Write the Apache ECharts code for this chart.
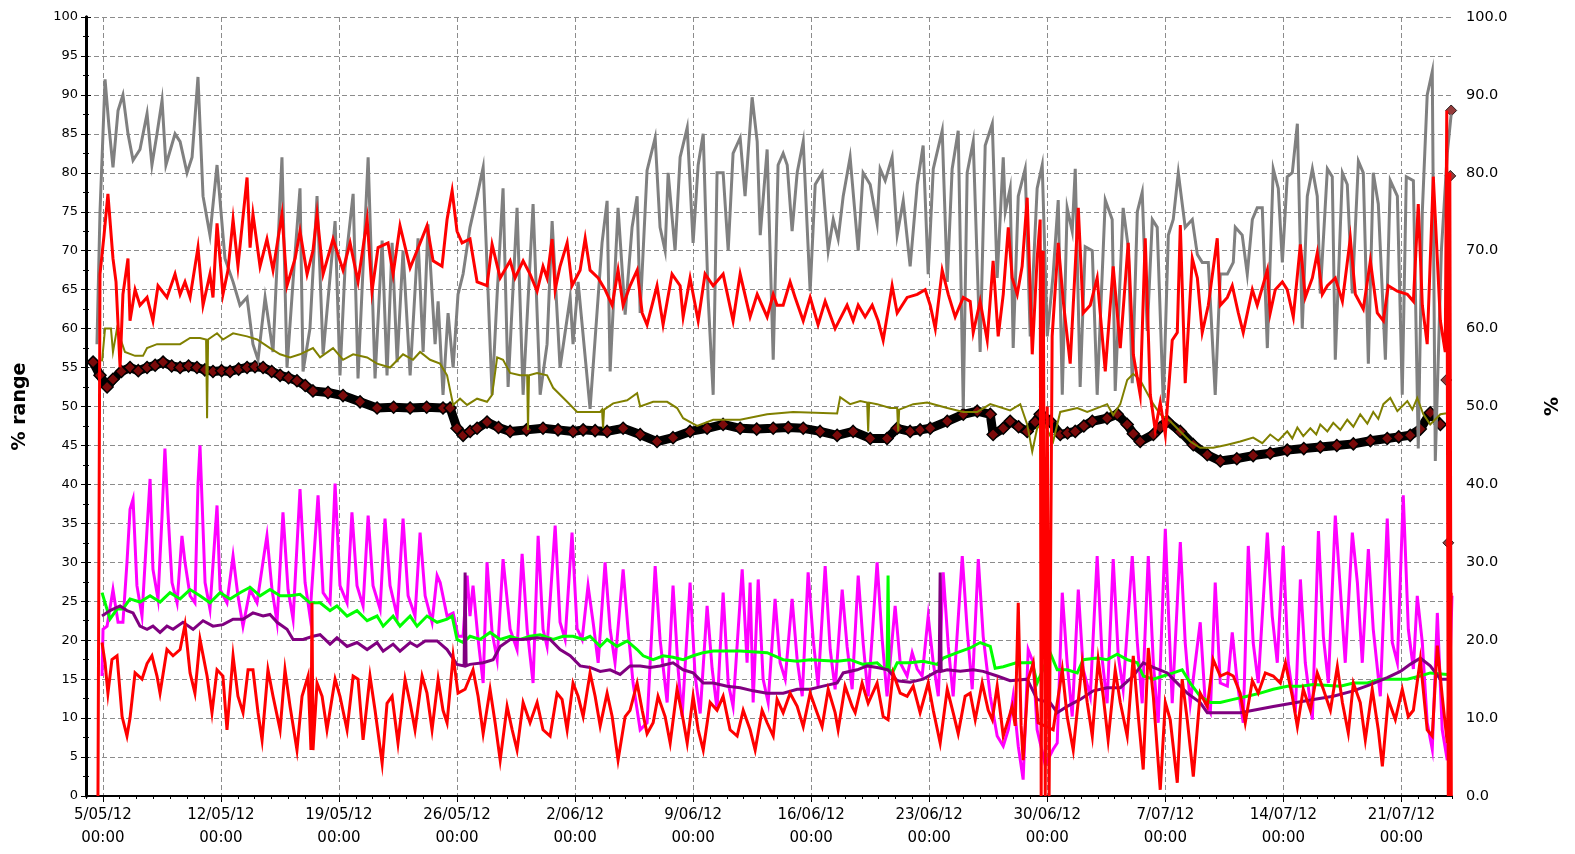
<!DOCTYPE html>
<html>
<head>
<meta charset="utf-8">
<script src="https://cdn.jsdelivr.net/npm/echarts@6/dist/echarts.min.js"></script>
<style>
  html, body { margin: 0; padding: 0; background: #ffffff; }
  #chart { width: 1575px; height: 854px; }
</style>
</head>
<body>
<div id="chart"></div>
<script>
// Time is stored as days elapsed since 4/05/12 00:00.
const startDate = Date.UTC(2012, 4, 4);
const spanDays = 81;

// Weekly date labels along the time axis (second line is the clock time).
const dateTicks = ['5/05/12', '12/05/12', '19/05/12', '26/05/12', '2/06/12', '9/06/12',
  '16/06/12', '23/06/12', '30/06/12', '7/07/12', '14/07/12', '21/07/12'];
const tickTime = '00:00';

// Grey trace (% range)
const greyLine = [
  [0.65,58],[0.83,75],[1.13,92],[1.36,86],[1.60,80.7],[1.90,88],[2.19,90],[2.49,85],[2.79,81.6],
  [3.20,83],[3.62,87.6],[3.91,81],[4.21,85],[4.51,89.3],[4.74,81],[5.28,85],[5.58,84],[5.99,80],
  [6.29,82],[6.64,92.3],[6.94,77],[7.35,72],[7.77,81],[8.24,69],[8.72,66],[9.13,63],[9.55,64],
  [9.90,58],[10.20,56],[10.62,64],[11.09,57],[11.62,82],[11.92,55],[12.34,68],[12.69,78],[12.87,54.5],
  [13.28,60],[13.70,77],[14.06,56.7],[14.77,73.8],[15.06,54],[15.36,67.8],[15.84,77.3],[16.13,53.6],
  [16.73,82],[17.14,53.6],[17.56,71.3],[17.85,54],[18.15,71],[18.45,55.7],[18.80,70],[19.22,54],
  [19.69,71.6],[19.99,57],[20.28,73.4],[20.70,58],[20.88,63.5],[21.17,51.5],[21.47,62],[21.77,55],
  [22.06,64.4],[22.36,67],[22.77,73],[23.19,77],[23.55,80.7],[24.08,51.5],[24.38,64.4],[24.73,78],
  [25.03,52.5],[25.56,75.5],[25.92,51.5],[26.51,76],[26.93,51.5],[27.34,58],[27.64,73.8],[28.11,55],
  [28.71,64],[28.88,58],[29.18,66],[29.89,49.7],[30.60,71],[30.90,76.4],[31.08,54.5],[31.55,75.5],
  [31.97,61.8],[32.38,73],[32.68,77],[32.86,62],[33.27,80.3],[33.75,84.5],[34.04,73],[34.34,70],
  [34.52,80],[34.93,70],[35.23,82],[35.65,85.8],[36.00,71],[36.30,81],[36.60,85],[36.89,64],
  [37.19,51.5],[37.42,80],[37.78,80],[38.08,70],[38.37,82.5],[38.79,84.5],[39.08,77],[39.50,89.7],
  [39.80,84],[39.98,72],[40.39,83],[40.75,56],[41.04,81],[41.34,82.5],[41.58,81],[41.87,72.5],
  [42.17,80],[42.53,84],[42.94,64.8],[43.24,78.5],[43.65,80],[44.01,70],[44.31,74],[44.60,71.5],
  [44.90,77],[45.31,82],[45.79,70],[46.08,80],[46.50,78.5],[46.91,73.5],[47.09,80.5],[47.39,79],
  [47.80,82],[48.10,72],[48.46,76.4],[48.87,68],[49.29,78.5],[49.64,83.5],[49.94,67],[50.24,80.5],
  [50.77,85.4],[51.07,66],[51.36,80.5],[51.72,85.4],[52.02,49.7],[52.25,80],[52.61,84],[53.02,57],
  [53.32,83.5],[53.74,86.3],[54.03,66.5],[54.39,82],[54.51,75],[54.80,78],[54.98,57.5],[55.28,77],
  [55.69,80.5],[55.99,59],[56.40,78],[56.70,81],[57.00,59],[57.35,67],[57.65,76.5],[57.89,51.5],
  [58.18,75.5],[58.48,72.5],[58.66,80.5],[58.95,52.5],[59.25,70.5],[59.67,70],[59.96,51.5],[60.44,76.5],
  [60.85,74],[61.03,52],[61.50,75.5],[61.80,70.5],[62.04,53],[62.34,75],[62.63,77.5],[62.93,59.7],
  [63.23,74],[63.52,73],[63.88,50.5],[64.18,72],[64.47,74],[64.77,80],[65.18,73],[65.60,74],
  [65.90,69.5],[66.19,68.5],[66.55,68.5],[66.96,51.5],[67.26,67],[67.68,67],[68.03,68.5],[68.15,73],
  [68.56,72],[68.86,67],[69.16,74],[69.45,75.5],[69.75,75.5],[70.05,57.5],[70.40,80.5],[70.70,78],
  [70.94,68.5],[71.23,79.5],[71.53,80],[71.83,86.3],[72.12,60],[72.42,77],[72.72,80.5],[73.01,77],
  [73.19,64.5],[73.61,80.5],[73.90,79.5],[74.08,56],[74.50,80],[74.79,78.5],[75.09,64.5],[75.45,81.5],
  [75.74,80],[76.04,55.5],[76.33,80],[76.63,76],[77.05,56],[77.34,79],[77.76,77],[78.05,51.5],
  [78.29,79.5],[78.71,79],[79.00,44.6],[79.24,75],[79.53,90],[79.83,93],[80.01,43],[80.37,70],
  [80.72,82.5],[80.95,87.5]
];

// Upper red trace
const redUpper = [
  [0.71,0],[0.83,67],[1.07,72],[1.30,77.3],[1.60,69],[1.78,66],[2.02,55],[2.19,64.4],[2.49,69],
  [2.61,61],[2.91,65],[3.20,63],[3.62,64],[3.97,61],[4.27,65.5],[4.80,64],[5.28,67],[5.58,64.4],
  [5.87,66],[6.17,64],[6.64,70.4],[6.94,63],[7.35,67],[7.53,64],[7.77,73.5],[8.12,64.4],[8.42,67.5],
  [8.72,74],[9.01,68],[9.55,79.4],[9.73,70.4],[9.90,74.7],[10.32,68],[10.73,71.5],[11.09,67.5],
  [11.62,74.7],[11.92,65.5],[12.40,69],[12.69,72.5],[13.11,67],[13.46,70],[13.70,74.7],[14.06,67],
  [14.65,71.5],[15.24,67.5],[15.66,71],[16.13,66],[16.67,74],[16.96,64.8],[17.32,70.4],[17.91,71],
  [18.21,67],[18.62,73.2],[19.22,67.8],[19.63,70],[20.22,73.2],[20.58,68.7],[21.11,68],[21.41,74],
  [21.71,77.7],[22.00,72.5],[22.30,71],[22.77,71.5],[23.19,66],[23.78,65.5],[24.08,70.8],[24.56,66.5],
  [25.15,68.7],[25.44,66.5],[25.92,68.7],[26.33,67],[26.75,64.8],[27.10,68],[27.34,66.5],[27.64,71.5],
  [27.82,65],[28.11,68],[28.53,71],[28.82,65.5],[29.30,67.5],[29.60,71.6],[29.89,67.5],[30.37,66.5],
  [30.78,65],[31.20,63],[31.55,67.5],[31.85,63],[32.26,65.5],[32.68,67.5],[32.98,62],[33.27,60.5],
  [33.86,65.5],[34.22,60.5],[34.75,67],[35.23,65.5],[35.41,61.5],[35.82,66.5],[36.30,61],[36.71,67],
  [37.19,65.5],[37.78,67],[38.37,61],[38.79,67],[39.38,61.5],[39.80,64.4],[40.39,61.5],[40.75,64.4],
  [40.98,63],[41.34,63],[41.75,66],[42.05,64],[42.53,61],[42.94,64],[43.41,60.5],[43.83,63.5],
  [44.42,60],[45.13,63],[45.49,61],[45.79,63],[46.20,61.5],[46.62,63],[46.97,61],[47.27,58.5],
  [47.80,65.5],[48.10,62],[48.69,64],[49.29,64.4],[49.76,65],[50.06,63],[50.36,60],[50.77,67.5],
  [51.13,64.4],[51.54,61.5],[52.02,64],[52.43,63.5],[52.61,59.5],[53.02,63.5],[53.44,58.5],[53.79,68.7],
  [54.09,59],[54.39,64.4],[54.69,73],[54.92,66.5],[55.22,64.4],[55.51,68],[55.81,76.8],[56.11,56.7],
  [56.40,69],[56.58,74],[56.64,0],[56.76,70],[56.88,0],[57.00,50],[57.11,0],[57.29,59],[57.65,71],
  [57.95,63.5],[58.36,55.5],[58.84,75.5],[59.13,62],[59.55,63],[59.96,66.5],[60.44,54.5],[60.91,68],
  [61.33,57.5],[61.80,71],[62.10,56.7],[62.51,51.5],[62.81,71.6],[63.11,51.5],[63.40,47],[63.70,50.5],
  [64.00,46.4],[64.41,58.5],[64.71,59.5],[64.89,73.3],[65.18,53],[65.60,69],[65.90,66.5],[66.19,59.5],
  [66.55,63],[67.08,71.6],[67.26,63],[67.68,64],[67.97,65.5],[68.33,62],[68.62,59.5],[69.16,65],
  [69.45,63],[70.05,67.5],[70.22,62],[70.52,65],[70.94,66],[71.23,65],[71.59,61.5],[72.01,70.8],
  [72.30,64],[72.72,66.5],[73.01,69.7],[73.31,64.4],[73.61,65.5],[74.08,66.5],[74.50,63.5],[74.97,71.6],
  [75.27,64.4],[75.74,62.5],[76.16,68.7],[76.57,62],[76.93,61],[77.22,65.5],[77.76,64.8],[78.35,64.4],
  [78.71,63.5],[79.00,76],[79.24,63],[79.53,58],[79.89,79.5],[80.31,61],[80.60,57],[80.69,88],
  [80.78,0],[80.87,80],[80.96,0]
];

// Olive trace
const oliveLine = [
  [0.95,55.8],[1.13,60],[1.48,60],[1.60,57],[1.84,60],[2.31,57],[2.91,56.5],[3.38,56.5],[3.62,57.5],
  [4.21,58],[5.58,58],[6.17,58.8],[6.76,58.8],[7.12,58.6],[7.18,48.5],[7.24,58.6],[7.77,59.4],
  [8.12,58.6],[8.72,59.4],[9.55,59],[10.14,58.6],[10.91,57.5],[11.51,56.7],[12.10,56.3],[12.69,56.7],
  [13.46,57.5],[13.88,56.3],[14.65,57.5],[15.24,56],[15.84,56.7],[16.67,56.3],[17.26,55.5],[18.03,55],
  [18.80,56.7],[19.39,56],[19.81,57],[20.40,56],[20.99,55.5],[21.41,54],[21.77,50.2],[22.18,51],
  [22.60,50.2],[23.19,51],[23.78,50.6],[24.08,51.5],[24.38,56.3],[24.73,56],[25.15,54.3],[25.74,54],
  [26.16,54],[26.21,47],[26.27,54],[26.75,54.3],[27.34,54],[27.70,52.4],[28.53,50.6],[29.12,49.3],
  [30.49,49.3],[30.60,49.6],[30.66,47.2],[30.72,49.6],[31.26,50.4],[32.09,50.8],[32.68,51.7],
  [32.86,50],[33.63,50.6],[34.46,50.6],[35.05,49.8],[35.41,48.5],[36.24,47.5],[37.19,48.3],
  [38.79,48.3],[40.39,49],[41.93,49.3],[44.54,49.1],[44.72,51.2],[45.31,50.3],[45.91,50.7],
  [46.32,50.5],[46.38,46.8],[46.44,50.5],[46.91,50.3],[47.68,49.8],[48.10,49.8],[48.16,46.8],
  [48.22,49.6],[49.05,50.3],[49.88,50.5],[51.07,49.8],[52.02,49.3],[52.85,49.3],[53.62,50.3],
  [54.80,49.5],[55.40,50.3],[55.81,47.7],[56.11,44.2],[56.40,47.2],[56.76,48],[57.35,45.5],
  [57.77,49.3],[58.78,49.8],[59.37,49.3],[59.96,49.8],[60.55,50.3],[60.91,48.9],[61.33,50.3],
  [61.74,53.4],[62.10,54.2],[62.51,53.4],[62.93,51.7],[63.29,50.3],[63.70,49],[64.29,48.1],
  [64.89,46.8],[65.48,45.5],[66.07,44.7],[66.84,44.7],[67.68,45.1],[68.44,45.5],[69.21,46],
  [69.75,45.3],[70.22,46.4],[70.70,45.6],[71.23,46.8],[71.53,45.9],[71.83,47.3],[72.18,46.2],
  [72.60,47.2],[72.95,46.4],[73.19,47.7],[73.61,46.8],[73.96,47.9],[74.38,47],[74.79,48.3],
  [75.15,47.4],[75.56,49],[75.98,47.8],[76.33,49.3],[76.63,48.4],[76.93,50.3],[77.34,51.1],
  [77.76,49.4],[78.35,50.7],[78.65,49.6],[78.94,51.1],[79.30,49],[79.71,47.7],[80.31,49],[80.90,49.2]
];

// Dark trace drawn with marker band
const darkBand = [
  [0.42,55.7],[0.83,54],[1.25,52.5],[1.60,53.5],[2.10,54.5],[2.61,55],[3.10,54.6],[3.62,55],[4.10,55.3],
  [4.57,55.7],[5.08,55.2],[5.58,55],[6.08,55.2],[6.58,55],[7.05,54.7],[7.53,54.5],[8.04,54.6],
  [8.54,54.5],[9.05,54.8],[9.55,55],[10.02,55.1],[10.50,55],[11.01,54.5],[11.51,54],[12.01,53.7],
  [12.51,53.3],[13.00,52.7],[13.46,52],[14.35,51.8],[15.24,51.4],[16.25,50.6],[17.26,49.8],
  [18.24,49.9],[19.22,49.8],[20.20,49.9],[21.17,49.8],[21.59,49.8],[22.00,47.2],[22.36,46.3],
  [22.78,46.8],[23.19,47.2],[23.78,48],[24.46,47.3],[25.15,46.8],[26.12,47],[27.10,47.2],[27.99,47],
  [28.88,46.8],[29.48,47],[30.19,46.9],[30.90,46.8],[31.85,47.2],[32.86,46.4],[33.86,45.5],
  [34.81,46],[35.82,46.8],[36.83,47.2],[37.78,47.7],[38.79,47.2],[39.77,47.1],[40.75,47.2],
  [41.64,47.3],[42.53,47.2],[43.53,46.8],[44.54,46.3],[45.49,46.8],[46.50,45.9],[47.50,45.9],
  [48.10,47.2],[48.87,46.8],[49.46,47],[50.06,47.2],[51.07,48.1],[52.02,49],[52.85,49.4],[53.62,49],
  [53.79,46.4],[54.39,47.2],[54.80,48.1],[55.30,47.4],[55.81,46.8],[56.28,48],[56.58,49],
  [56.88,48.5],[57.17,48.1],[57.77,46.4],[58.20,46.6],[58.66,46.8],[59.17,47.5],[59.67,48.1],
  [60.55,48.5],[61.15,49],[61.74,47.7],[62.10,46.5],[62.51,45.5],[63.29,46.4],[63.70,47.3],
  [64.12,48.1],[64.89,46.8],[65.66,45.1],[66.49,43.8],[67.26,43],[68.24,43.3],[69.21,43.7],
  [70.22,44],[71.23,44.4],[72.21,44.6],[73.19,44.8],[74.17,45],[75.15,45.2],[76.16,45.6],
  [77.16,45.9],[77.84,46.1],[78.52,46.3],[79.12,47.1],[79.71,49.2],[80.31,47.7]
];

// Isolated readings of the dark trace at the end of the record
const darkBandTail = [[80.66,53.4],[80.78,32.5],[80.90,79.6],[80.95,88]];

// Magenta trace
const magentaLine = [
  [0.95,15.4],[1.01,21.4],[1.25,21.8],[1.60,26.5],[1.90,22.3],[2.19,22.3],[2.43,30],[2.61,36.8],
  [2.79,38.1],[3.02,27],[3.32,23.1],[3.62,34.3],[3.80,40.7],[3.97,29.1],[4.27,25.3],[4.51,36],
  [4.68,44.6],[4.86,36.4],[5.10,27.4],[5.40,24.8],[5.69,33.4],[5.87,30],[6.17,25.7],[6.46,24.8],
  [6.64,40],[6.76,45],[7.06,27.4],[7.35,24],[7.77,37.3],[7.95,26.5],[8.36,24.8],[8.72,30.8],
  [9.01,25.7],[9.31,21.8],[9.73,26.5],[10.14,24.8],[10.56,31],[10.73,33.4],[11.03,26.5],[11.33,22.3],
  [11.68,36.4],[11.98,26.5],[12.28,22.7],[12.69,39.4],[12.99,27.4],[13.28,23.1],[13.76,38.6],
  [14.06,26.1],[14.47,24.8],[14.77,40.1],[15.06,27],[15.48,24.8],[15.77,36.4],[16.07,27],[16.43,24.4],
  [16.73,36],[17.02,27],[17.44,24],[17.73,35.6],[18.03,27],[18.45,23.1],[18.80,35.6],[19.10,25.7],
  [19.51,23.1],[19.81,33.8],[20.11,25.7],[20.52,22.3],[20.82,28.3],[21.00,27.4],[21.41,23.1],
  [21.77,23.5],[22.06,20.5],[22.36,20.5],[22.60,28.3],[22.77,23.1],[22.95,27],[23.25,20.1],
  [23.55,14.5],[23.78,30],[24.08,21],[24.38,17.5],[24.73,30.4],[25.15,21.4],[25.56,18.8],[25.86,31.1],
  [26.16,21.4],[26.51,14.5],[26.81,33.4],[27.10,21.4],[27.34,19.2],[27.82,34.7],[28.11,22.3],
  [28.41,20.1],[28.82,33.8],[29.12,21.5],[29.42,20.1],[29.77,27],[30.07,22.3],[30.37,17.1],[30.78,30],
  [31.08,21.4],[31.37,17.1],[31.85,29.1],[32.14,21.4],[32.44,14.5],[32.86,8.5],[33.27,9.4],[33.75,29.5],
  [34.04,20.1],[34.46,12],[34.81,27],[35.11,16.3],[35.35,10.2],[35.82,27.4],[36.12,15.4],[36.42,10.6],
  [36.83,24.4],[37.13,16.3],[37.42,11.1],[37.78,26.1],[38.08,14.5],[38.37,11.5],[38.91,29.1],
  [39.20,17.1],[39.38,27.4],[39.56,12],[39.86,27.8],[40.15,15],[40.45,12],[40.86,25.3],[41.16,17.1],
  [41.46,15],[41.87,25.3],[42.17,17.5],[42.47,12.8],[42.82,28.7],[43.12,20.1],[43.41,14.1],[43.83,29.5],
  [44.13,18.8],[44.42,13.7],[44.84,26.5],[45.13,19.2],[45.43,13.7],[45.79,28.3],[46.08,19.7],
  [46.38,12.8],[46.91,30],[47.21,20.1],[47.50,12.8],[47.98,24.4],[48.28,17.1],[48.69,15.4],[48.99,18.4],
  [49.29,16.3],[49.58,15.4],[49.94,23.1],[50.24,17.1],[50.54,12.8],[50.83,28.7],[51.13,19.2],
  [51.42,12.8],[51.96,30.8],[52.25,21.4],[52.55,13.7],[52.91,30.4],[53.20,20.5],[53.62,12.8],
  [54.03,7.7],[54.39,6.4],[54.69,8.5],[54.98,12.8],[55.28,6.4],[55.57,2.1],[55.87,18.8],[56.17,17.1],
  [56.40,8.5],[56.88,4],[57.35,6],[57.59,6.8],[57.89,26.1],[58.18,17.1],[58.48,10.2],[58.84,26.5],
  [59.13,16.3],[59.55,12.8],[59.96,30.8],[60.26,17.5],[60.55,11.9],[60.91,30.4],[61.21,18],[61.50,13.7],
  [62.04,30.8],[62.34,19.7],[62.63,11.9],[62.99,30.8],[63.29,17.1],[63.58,9.4],[64.00,34.3],[64.18,24],
  [64.41,11.9],[64.89,32.6],[65.18,19.7],[65.48,11.9],[66.07,22.3],[66.37,11.9],[66.67,10.7],
  [66.96,27.4],[67.26,14.5],[67.68,14.1],[67.97,21],[68.27,14.5],[68.62,9.4],[68.92,32.1],[69.21,19.7],
  [69.51,14.5],[70.05,33.8],[70.34,23.1],[70.64,17.1],[70.99,32.1],[71.29,17.1],[71.71,10.7],
  [72.01,27.8],[72.30,17.1],[72.72,9.8],[73.08,34],[73.37,20.5],[73.67,14.5],[74.08,36],[74.38,26.5],
  [74.67,17.1],[75.09,33.8],[75.39,27.4],[75.68,17.1],[76.04,31.7],[76.33,21.4],[76.75,12.8],
  [77.16,35.6],[77.46,19.7],[77.76,17.1],[78.11,38.6],[78.41,21.4],[78.71,16.3],[78.94,25.7],
  [79.24,19.7],[79.53,9.4],[79.83,6],[80.13,23.5],[80.42,8.5],[80.72,4.6],[81.0,25.7]
];

// Green trace
const greenLine = [
  [0.95,26.1],[1.42,22.7],[1.84,24],[2.19,24],[2.61,25.3],[3.20,24.9],[3.80,25.7],[4.39,24.9],
  [4.98,26.1],[5.58,25.3],[6.17,26.5],[6.76,25.7],[7.35,24.8],[7.95,26.1],[8.54,25.3],[9.13,26.1],
  [9.73,26.8],[10.32,25.7],[10.91,26.5],[11.51,25.7],[12.10,25.7],[12.69,25.9],[13.28,24.8],
  [13.88,24.8],[14.47,23.8],[14.88,24.4],[15.48,23.1],[16.07,23.8],[16.67,22.5],[17.26,23.1],
  [17.62,21.8],[18.21,23.1],[18.62,21.8],[19.22,23.1],[19.63,21.8],[20.22,23.1],[20.82,22.3],
  [21.41,22.7],[21.71,23.1],[22.00,20.1],[22.36,19.7],[22.77,20.5],[23.37,20.1],[23.96,21],
  [24.56,20.1],[25.15,20.5],[25.74,20.1],[26.33,20.5],[26.93,20.7],[27.70,20.1],[28.29,20.5],
  [28.88,20.5],[29.48,20.1],[29.89,20.5],[30.49,19.2],[30.90,20.1],[31.49,19.2],[32.09,19.9],
  [32.68,18.8],[33.04,18],[33.63,17.5],[34.22,18],[34.81,17.8],[35.41,17.5],[36.00,18],[36.60,18.4],
  [37.19,18.6],[38.79,18.6],[40.39,18.4],[41.34,17.5],[42.17,17.3],[42.94,17.5],[44.54,17.3],
  [45.31,17.5],[46.08,16.9],[46.91,17.1],[47.27,16.4],[47.50,16.2],[47.56,28.3],[47.62,16.2],
  [47.86,16],[48.10,17.1],[48.87,17.1],[49.64,17.3],[50.47,16.9],[50.83,17.7],[51.66,18.4],
  [52.43,19],[53.02,19.7],[53.62,19.2],[53.91,16.4],[54.39,16.6],[55.16,17.1],[56.11,17.1],
  [56.40,14.5],[57.17,18.4],[57.59,16.2],[58.18,16.2],[58.78,15.8],[59.13,17.5],[59.96,17.7],
  [60.55,17.5],[61.15,18.2],[61.74,17.5],[62.34,17.1],[62.69,15.4],[63.29,15],[63.88,15.4],
  [64.47,15.8],[65.00,16.2],[65.48,14.5],[66.07,12.8],[66.67,12],[67.26,12],[68.03,12.4],
  [68.86,12.8],[69.63,13.2],[70.40,13.7],[71.23,14.1],[72.01,14.1],[72.78,14.3],[74.38,14.1],
  [75.15,14.5],[75.98,14.5],[76.75,15],[78.35,15],[79.12,15.4],[79.71,15.8],[80.72,15.6]
];

// Purple trace
const purpleLine = [
  [0.95,23.1],[1.42,23.8],[2.02,24.4],[2.43,23.8],[2.79,23.5],[3.20,21.8],[3.62,21.4],[3.97,21.8],
  [4.39,21],[4.80,21.8],[5.16,21.4],[5.75,22.3],[6.35,21.4],[6.94,22.5],[7.53,21.8],[8.12,22],
  [8.72,22.7],[9.31,22.7],[9.90,23.5],[10.50,23.1],[10.91,23.3],[11.33,22.3],[11.92,21.4],[12.28,20.1],
  [12.87,20.1],[13.46,20.5],[13.88,20.7],[14.47,19.5],[14.88,20.3],[15.48,19.2],[16.07,19.7],
  [16.67,18.8],[17.26,19.7],[17.62,18.6],[18.21,19.5],[18.62,18.6],[19.22,19.7],[19.63,19.2],
  [20.11,19.9],[20.82,19.9],[21.41,18.8],[22.00,16.9],[22.42,16.7],[22.48,28.7],[22.54,16.7],
  [22.77,16.9],[23.55,17.1],[24.14,17.5],[24.56,19.2],[25.15,20.1],[25.92,20.1],[26.75,20.3],
  [27.52,20.1],[28.11,18.8],[28.71,18],[29.30,16.7],[29.89,16.5],[30.49,16],[31.08,16.2],[31.67,15.6],
  [32.26,16.7],[32.86,16.7],[33.45,16.5],[34.04,16.7],[34.81,17.1],[35.41,16.2],[36.00,15.8],
  [36.60,14.5],[37.19,14.5],[38.02,14.1],[38.79,13.9],[39.56,13.5],[40.39,13.2],[41.34,13.2],
  [42.17,13.7],[42.94,13.7],[43.71,14.1],[44.54,14.5],[44.90,15.8],[45.73,16.2],[46.32,16.7],
  [46.91,16.5],[47.56,16.2],[48.10,14.8],[48.87,14.6],[49.64,15],[50.47,16],[50.59,16],[50.65,28.7],
  [50.71,16],[51.07,16.2],[51.84,16],[52.61,16.2],[53.20,16],[54.03,15.4],[54.80,14.8],[55.81,15],
  [56.40,12.4],[57.17,12],[57.59,10.7],[58.18,11.5],[58.95,12.4],[59.73,13.5],[60.55,13.9],
  [61.33,13.9],[62.10,15.4],[62.69,17.1],[63.29,16.5],[64.12,15.8],[64.47,15],[65.30,13.2],
  [66.07,12],[66.49,10.7],[68.44,10.7],[70.40,11.5],[72.78,12.4],[73.96,12.8],[75.15,13.5],
  [76.16,14.3],[77.16,15.2],[77.94,16],[78.52,16.9],[79.12,17.7],[79.71,16.7],[80.31,15],[80.90,15]
];

// Lower red trace
const redLower = [
  [0.95,19.7],[1.13,17.1],[1.30,13.2],[1.54,17.5],[1.84,18],[2.14,10.2],[2.43,7.7],[2.61,10],
  [2.91,15.8],[3.32,15],[3.62,17],[3.91,18],[4.21,15.4],[4.39,13.2],[4.80,18.8],[5.16,18],[5.58,18.8],
  [5.87,22],[6.17,15.8],[6.46,13.2],[6.76,20.1],[7.18,15.4],[7.47,10.7],[7.77,16.2],[8.12,15.4],
  [8.36,8.5],[8.72,18],[9.01,12.8],[9.31,10.7],[9.61,16.2],[9.90,16.2],[10.20,10.7],[10.44,7.2],
  [10.79,16.2],[11.09,12.8],[11.51,8.5],[11.80,16.2],[12.10,11.5],[12.51,5.9],[12.81,12.8],
  [13.17,15.4],[13.34,5.9],[13.40,24.8],[13.46,5.9],[13.70,14.5],[14.00,12.8],[14.29,8.5],[14.77,15],
  [15.06,12.8],[15.48,8.5],[15.84,15.4],[16.13,15],[16.43,7.2],[16.84,15.4],[17.14,11],[17.56,4.2],
  [17.85,11.9],[18.15,12.8],[18.50,6.8],[18.92,15],[19.22,11.9],[19.51,8.5],[19.93,15.4],[20.22,13.2],
  [20.52,8.5],[20.88,15],[21.17,11],[21.41,9.4],[21.77,18],[22.06,13.2],[22.48,13.7],[22.95,16.2],
  [23.25,12.8],[23.55,8],[23.96,13.7],[24.26,9.4],[24.56,4.6],[24.97,11.5],[25.27,8.5],[25.56,5.9],
  [25.92,12],[26.33,9.4],[26.75,12],[27.10,8.5],[27.52,7.7],[27.93,13.2],[28.23,12.4],[28.53,8.5],
  [28.88,14.5],[29.18,12.8],[29.48,10.2],[29.89,15.8],[30.19,12.8],[30.49,9],[30.90,13.2],[31.20,10.2],
  [31.55,4.6],[31.97,10.2],[32.26,11],[32.68,14.5],[32.98,11],[33.27,8],[33.63,9.4],[33.92,12.8],
  [34.34,10.2],[34.64,6.8],[35.05,13.7],[35.41,9.8],[35.65,6.8],[36.00,12.8],[36.30,8.5],[36.60,5.9],
  [37.01,12],[37.42,11],[37.78,12.8],[38.19,8.5],[38.61,7.7],[38.97,11],[39.38,8.5],[39.68,5.9],
  [40.09,11],[40.39,9.4],[40.75,7.7],[40.98,12.4],[41.34,10.7],[41.75,13.2],[42.17,11.5],[42.53,8.9],
  [42.94,13.2],[43.35,10.7],[43.65,8.9],[44.01,13.7],[44.42,10.7],[44.60,8.5],[45.01,14.1],
  [45.43,11.5],[45.61,10.7],[46.02,14.5],[46.38,11.9],[46.91,14.5],[47.27,10.2],[47.56,9.8],
  [47.86,15.8],[48.28,13.2],[48.69,12.8],[49.05,14.1],[49.46,10.7],[49.94,14.5],[50.24,11],[50.65,6.8],
  [51.07,13.7],[51.42,10.7],[51.72,8],[52.13,12.8],[52.43,13.2],[52.73,9.8],[53.14,14.5],[53.50,11],
  [53.74,9.8],[54.03,14.1],[54.39,7.7],[54.69,9.8],[54.92,11.5],[55.10,9],[55.28,24.8],[55.45,9],
  [55.57,4.6],[55.87,15],[56.17,17.1],[56.46,9.4],[57.35,8.5],[57.89,16.2],[58.18,10.2],[58.54,5.9],
  [59.07,17.1],[59.37,12],[59.67,7.7],[60.02,17.5],[60.32,12.8],[60.61,7.2],[61.03,16.2],[61.33,12],
  [61.74,7.7],[62.10,18],[62.40,10.2],[62.69,3.4],[62.99,19],[63.29,12.8],[63.70,0.8],[64.00,12],
  [64.29,9.8],[64.71,1.7],[65.00,15],[65.30,9.8],[65.66,2.5],[66.07,13.2],[66.49,11.5],[66.84,17.5],
  [67.26,15.4],[67.68,15.8],[68.03,15.4],[68.44,13.2],[68.74,9.4],[69.16,14.8],[69.51,13.2],
  [69.93,15.8],[70.40,15.4],[70.82,14.5],[71.12,17.1],[71.53,12.8],[71.83,8.9],[72.18,13.7],
  [72.60,11],[73.01,15.8],[73.37,13.7],[73.79,11],[74.20,16.6],[74.50,12],[74.85,8.1],[75.15,14.5],
  [75.56,12],[75.86,7.2],[76.27,13.7],[76.63,8.5],[76.87,3.8],[77.22,12.4],[77.64,9.8],[78.05,13.7],
  [78.41,10.2],[78.71,11],[79.12,17.5],[79.53,8.5],[79.83,7.7],[80.13,19.3],[80.42,12.8],[80.72,6.8],
  [80.95,26.1]
];

// Day offsets of the weekly labels
function labelToDay(s) {
  const [d, m, y] = s.split('/').map(Number);
  return Math.round((Date.UTC(2000 + y, m - 1, d) - startDate) / 86400000);
}
const tickDays = dateTicks.map(labelToDay);

const baseFont = { fontFamily: 'DejaVu Sans', color: '#000' };
const nameFont = { fontFamily: 'DejaVu Sans', fontSize: 19, fontWeight: 'bold', color: '#000' };
const gridDash = { color: '#8c8c8c', width: 1, type: [5, 3] };

function lineSeries(name, data, color, width, z) {
  return {
    name, type: 'line', data, z,
    showSymbol: false, symbol: 'none',
    lineStyle: { color, width, join: 'miter' },
    itemStyle: { color },
    silent: true
  };
}

const chart = echarts.init(document.getElementById('chart'), null, { renderer: 'canvas' });
chart.setOption({
  animation: false,
  backgroundColor: '#ffffff',
  grid: { left: 86, right: 123, top: 17, bottom: 58, containLabel: false },
  xAxis: [
    {
      type: 'value', min: 0, max: spanDays,
      axisLine: { show: true, onZero: false, lineStyle: { color: '#000', width: 2 } },
      axisTick: { show: true, customValues: tickDays, length: 6, lineStyle: { color: '#000', width: 1 } },
      axisLabel: {
        ...baseFont, fontSize: 15, customValues: tickDays, margin: 8, lineHeight: 23,
        formatter: v => {
          const i = tickDays.indexOf(Math.round(v));
          return i >= 0 ? dateTicks[i] + '\n' + tickTime : '';
        }
      },
      splitLine: { show: true, lineStyle: gridDash }
    },
    {
      // daily ticks
      type: 'value', min: 0, max: spanDays, interval: 1, position: 'bottom',
      axisLine: { show: false }, axisLabel: { show: false }, splitLine: { show: false },
      axisTick: { show: true, length: 3, lineStyle: { color: '#000', width: 1 } }
    }
  ],
  yAxis: [
    {
      type: 'value', min: 0, max: 100, interval: 5, position: 'left',
      name: '% range', nameLocation: 'middle', nameRotate: 90, nameGap: 56,
      nameTextStyle: nameFont,
      axisLine: { show: true, lineStyle: { color: '#000', width: 3 } },
      axisTick: { show: true, length: 5, lineStyle: { color: '#000' } },
      minorTick: { show: true, splitNumber: 2, length: 3, lineStyle: { color: '#000' } },
      axisLabel: { ...baseFont, fontSize: 13, margin: 8 },
      splitLine: { show: true, lineStyle: gridDash }
    },
    {
      type: 'value', min: 0, max: 100, interval: 10, position: 'right',
      name: '%', nameLocation: 'middle', nameRotate: 90, nameGap: 92,
      nameTextStyle: nameFont,
      axisLine: { show: true, lineStyle: { color: '#000', width: 3 } },
      axisTick: { show: true, length: 5, lineStyle: { color: '#000' } },
      minorTick: { show: true, splitNumber: 4, length: 3, lineStyle: { color: '#000' } },
      axisLabel: { ...baseFont, fontSize: 14.5, margin: 14, formatter: v => v.toFixed(1) },
      splitLine: { show: false }
    }
  ],
  series: [
    {
      name: 'dark', type: 'line', data: darkBand, z: 2, silent: true,
      symbol: 'diamond', symbolSize: 12, showSymbol: true, showAllSymbol: true,
      lineStyle: { color: '#000', width: 9 },
      itemStyle: { color: '#7a0a0a', borderColor: '#000', borderWidth: 1.5 }
    },
    {
      name: 'dark tail', type: 'scatter', data: darkBandTail, z: 2, silent: true,
      symbol: 'diamond', symbolSize: 11,
      itemStyle: { color: '#7a0a0a', borderColor: '#000', borderWidth: 1 }
    },
    lineSeries('grey', greyLine, '#808080', 3, 3),
    lineSeries('olive', oliveLine, '#808000', 2, 4),
    lineSeries('magenta', magentaLine, '#ff00ff', 3, 5),
    lineSeries('green', greenLine, '#00ff00', 3, 6),
    lineSeries('purple', purpleLine, '#800080', 3, 7),
    lineSeries('red lower', redLower, '#ff0000', 3, 8),
    lineSeries('red upper', redUpper, '#ff0000', 3, 9)
  ]
});
</script>
</body>
</html>
